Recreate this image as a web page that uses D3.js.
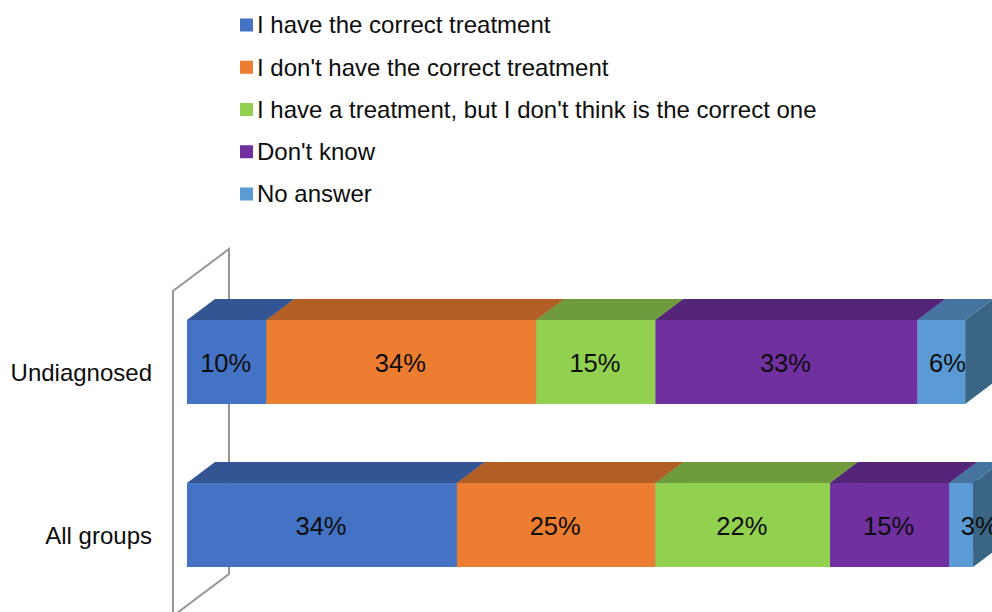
<!DOCTYPE html>
<html>
<head>
<meta charset="utf-8">
<script src="https://cdnjs.cloudflare.com/ajax/libs/d3/7.8.5/d3.min.js"></script>
<style>
  html, body { margin: 0; padding: 0; background: #fff; overflow: hidden; }
  text { font-family: "Liberation Sans", Arial, sans-serif; fill: #0d0d0d; }
</style>
</head>
<body>
<svg id="chart" width="992" height="612"></svg>
<script>
var groups = ["Undiagnosed", "All groups"];
var answers = ["I have the correct treatment", "I don't have the correct treatment", "I have a treatment, but I don't think is the correct one", "Don't know", "No answer"];
var undiagnosed = [10, 34, 15, 33, 6];
var allGroups = [34, 25, 22, 15, 3];

var front = ["#4472c4", "#ed7d31", "#92d050", "#7030a0", "#5b9bd5"];
var top3d = ["#335593", "#b25e25", "#6e9c3c", "#542478", "#44749f"];
var side3d = "#3a6585";

var rows = groups.map(function (g, i) {
  var r = {group: g};
  var vals = i == 0 ? undiagnosed : allGroups;
  answers.forEach(function (a, j) { r[a] = vals[j]; });
  return r;
});

var series = d3.stack().keys(answers)(rows);

var x = d3.scaleLinear().domain([0, 100]).range([187, 981]);
var y = d3.scaleBand().domain(groups).range([320, 567]).paddingInner(0.485);

// depth of the 3d bars
var dx = 28, dy = -21;

var svg = d3.select("#chart");

// back wall
var line = d3.line();
svg.append("path")
  .attr("d", line([[173, 616], [173, 291], [229, 249], [229, 574], [173, 616]]))
  .attr("fill", "none")
  .attr("stroke", "#969696")
  .attr("stroke-width", 2);

series.forEach(function (s, i) {
  s.forEach(function (d) {
    var x0 = x(d[0]), x1 = x(d[1]);
    var y0 = y(d.data.group), y1 = y0 + y.bandwidth();

    svg.append("path")
      .attr("d", line([[x1, y0], [x1 + dx, y0 + dy], [x1 + dx, y1 + dy], [x1, y1]]) + "Z")
      .attr("fill", side3d);
    svg.append("path")
      .attr("d", line([[x0, y0], [x0 + dx, y0 + dy], [x1 + dx, y0 + dy], [x1, y0]]) + "Z")
      .attr("fill", top3d[i]);
    svg.append("rect")
      .attr("x", x0)
      .attr("y", y0)
      .attr("width", x1 - x0)
      .attr("height", y1 - y0)
      .attr("fill", front[i]);
  });
});

// labels go on top of everything, narrow segments push them to the right
series.forEach(function (s) {
  s.forEach(function (d) {
    var x0 = x(d[0]), x1 = x(d[1]);
    svg.append("text")
      .text((d[1] - d[0]) + "%")
      .attr("x", Math.max((x0 + x1) / 2 - 1, x0 + 30))
      .attr("y", y(d.data.group) + y.bandwidth() / 2 + 1.5)
      .attr("dy", "0.35em")
      .attr("text-anchor", "middle")
      .attr("font-size", 25.5);
  });
});

svg.selectAll(".cat")
  .data(groups)
  .enter()
  .append("text")
  .attr("class", "cat")
  .text(function (d) { return d; })
  .attr("x", 152)
  .attr("y", function (d) { return y(d) + y.bandwidth() / 2 + 11; })
  .attr("dy", "0.35em")
  .attr("text-anchor", "end")
  .attr("font-size", 24);

// legend
var ly = d3.scalePoint().domain(answers).range([25, 194]);

svg.selectAll(".key")
  .data(answers)
  .enter()
  .append("rect")
  .attr("class", "key")
  .attr("x", 240)
  .attr("y", function (d) { return ly(d) - 6.5; })
  .attr("width", 13)
  .attr("height", 13)
  .style("fill", function (d, i) { return front[i]; });

svg.selectAll(".lab")
  .data(answers)
  .enter()
  .append("text")
  .attr("class", "lab")
  .text(function (d) { return d; })
  .attr("x", 257)
  .attr("y", function (d) { return ly(d); })
  .attr("dy", "0.35em")
  .attr("font-size", 24);
</script>
</body>
</html>
